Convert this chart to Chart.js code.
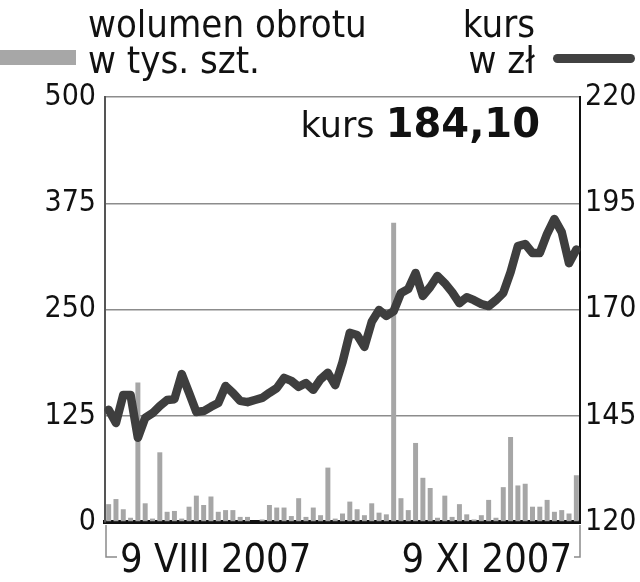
<!DOCTYPE html>
<html>
<head>
<meta charset="utf-8">
<script src="https://cdn.jsdelivr.net/npm/chart.js@4/dist/chart.umd.min.js"></script>
<style>
  html, body { margin: 0; padding: 0; background: #fff; }
  #wrap { position: relative; width: 640px; height: 582px; overflow: hidden; }
  canvas { position: absolute; left: 0; top: 0; }
  .t { position: absolute; white-space: nowrap; font-family: "DejaVu Sans", sans-serif; color: #111; }
  .c { font-family: "DejaVu Sans Condensed", "DejaVu Sans", sans-serif; }
  .h { font-size: 38px; line-height: 38px; }
  .sw { position: absolute; }
</style>
</head>
<body>
<div id="wrap">
  <canvas id="c" width="640" height="582"></canvas>
  <div class="sw" style="left:0;top:50px;width:76px;height:15px;background:#a7a7a7;"></div>
  <div class="sw" style="left:553px;top:54px;width:82px;height:9px;border-radius:5px;background:#414141;"></div>
  <div class="t c h" style="left:88px;top:5px;">wolumen obrotu</div>
  <div class="t c h" style="left:88px;top:41px;">w tys. szt.</div>
  <div class="t c h" style="right:105px;top:5px;">kurs</div>
  <div class="t c h" style="right:105px;top:41px;">w zł</div>
  <div class="t" style="right:100px;top:103px;font-size:40px;line-height:40px;"><span style="font-size:35px;">kurs </span><b>184,10</b></div>
  <div class="t c" style="left:120px;top:539px;font-size:39.5px;line-height:39.5px;">9 VIII 2007</div>
  <div class="t c" style="right:68px;top:539px;font-size:39.5px;line-height:39.5px;">9 XI 2007</div>
</div>
<script>
// Trading days 9 VIII 2007 – 9 XI 2007
const categories = [
  "2007-08-09","2007-08-10","2007-08-13","2007-08-14","2007-08-16","2007-08-17","2007-08-20","2007-08-21",
  "2007-08-22","2007-08-23","2007-08-24","2007-08-27","2007-08-28","2007-08-29","2007-08-30","2007-08-31",
  "2007-09-03","2007-09-04","2007-09-05","2007-09-06","2007-09-07","2007-09-10","2007-09-11","2007-09-12",
  "2007-09-13","2007-09-14","2007-09-17","2007-09-18","2007-09-19","2007-09-20","2007-09-21","2007-09-24",
  "2007-09-25","2007-09-26","2007-09-27","2007-09-28","2007-10-01","2007-10-02","2007-10-03","2007-10-04",
  "2007-10-05","2007-10-08","2007-10-09","2007-10-10","2007-10-11","2007-10-12","2007-10-15","2007-10-16",
  "2007-10-17","2007-10-18","2007-10-19","2007-10-22","2007-10-23","2007-10-24","2007-10-25","2007-10-26",
  "2007-10-29","2007-10-30","2007-10-31","2007-11-02","2007-11-05","2007-11-06","2007-11-07","2007-11-08",
  "2007-11-09"
];
// wolumen obrotu, tys. szt.
const volume = [
  21,27,15,5,164,22,4,82,12,13,4,18,31,20,30,12,14,14,6,6,
  0,3,20,17,17,7,28,6,17,8,64,4,10,24,15,8,22,11,9,352,
  28,14,93,52,40,5,31,6,21,9,3,8,26,5,41,100,43,45,18,18,
  26,12,14,10,55
];
// kurs, zł
const price = [
  146.4,143.3,149.9,149.9,139.8,144.5,145.6,147.3,148.7,148.9,
  154.8,150.4,145.9,146.1,147.1,148.0,152.0,150.4,148.5,148.2,
  148.7,149.2,150.4,151.5,153.9,153.2,151.8,152.7,151.1,153.6,
  155.1,152.2,157.6,164.5,164.0,161.2,167.1,169.9,168.5,169.6,
  173.9,174.8,178.6,173.2,175.3,177.9,176.2,174.1,171.5,172.9,
  172.2,171.3,170.8,172.2,173.9,178.8,184.9,185.4,183.3,183.3,
  187.8,191.3,188.2,180.9,184.1
];
const volumeTicks = [0, 125, 250, 375, 500];
const priceTicks = [120, 145, 170, 195, 220];

const bracket = {
  id: 'bracket',
  afterDraw(chart) {
    const a = chart.chartArea, c = chart.ctx;
    c.save();
    c.strokeStyle = '#8a8a8a';
    c.lineWidth = 1.5;
    c.beginPath();
    c.moveTo(a.left + 1, a.bottom + 3);
    c.lineTo(a.left + 1, a.bottom + 35);
    c.lineTo(a.left + 12, a.bottom + 35);
    c.moveTo(a.right, a.bottom + 3);
    c.lineTo(a.right, a.bottom + 35);
    c.lineTo(a.right - 6, a.bottom + 35);
    c.stroke();
    c.restore();
  }
};

const tickFont = { family: '"DejaVu Sans Condensed", "DejaVu Sans", sans-serif', size: 30 };

new Chart(document.getElementById('c'), {
  type: 'bar',
  data: {
    labels: categories,
    datasets: [
      {
        type: 'line',
        label: 'kurs',
        data: price,
        yAxisID: 'yR',
        borderColor: '#3e3e3e',
        borderWidth: 8.5,
        borderJoinStyle: 'round',
        borderCapStyle: 'round',
        tension: 0,
        pointRadius: 0,
        order: 0
      },
      {
        type: 'bar',
        label: 'wolumen',
        data: volume,
        yAxisID: 'yL',
        backgroundColor: '#a6a6a6',
        categoryPercentage: 1,
        barPercentage: 0.68,
        order: 1
      }
    ]
  },
  options: {
    responsive: false,
    animation: false,
    devicePixelRatio: 1,
    layout: { padding: { top: 97, left: 0, right: 0, bottom: 0 } },
    plugins: { legend: { display: false }, tooltip: { enabled: false } },
    scales: {
      x: {
        type: 'category',
        offset: true,
        grid: { display: false },
        border: { display: true, color: '#111', width: 4 },
        ticks: { display: false },
        afterFit(s) { s.height = 60; }
      },
      yL: {
        position: 'left',
        min: volumeTicks[0],
        max: volumeTicks[volumeTicks.length - 1],
        ticks: { stepSize: volumeTicks[1] - volumeTicks[0], font: tickFont, color: '#111', padding: 9 },
        grid: {
          drawTicks: false,
          color: (ctx) => (ctx.tick && ctx.tick.value === 0) ? 'rgba(0,0,0,0)' : '#8c8c8c',
          lineWidth: 1.5
        },
        border: { display: true, color: '#555', width: 2 },
        afterFit(s) { s.width = 105; }
      },
      yR: {
        position: 'right',
        min: priceTicks[0],
        max: priceTicks[priceTicks.length - 1],
        ticks: { stepSize: priceTicks[1] - priceTicks[0], font: tickFont, color: '#111', padding: 5 },
        grid: { display: false, drawTicks: false },
        border: { display: true, color: '#111', width: 2 },
        afterFit(s) { s.width = 60; }
      }
    }
  },
  plugins: [bracket]
});
</script>
</body>
</html>
